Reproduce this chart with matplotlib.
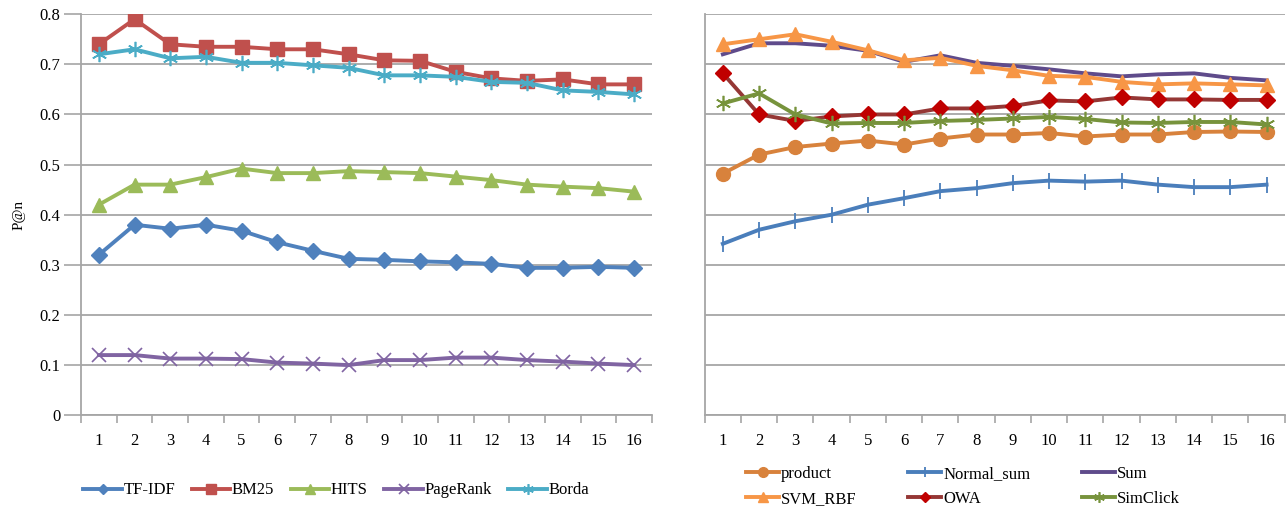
import numpy as np
import matplotlib
matplotlib.use('Agg')
import matplotlib.pyplot as plt
from matplotlib.ticker import FixedLocator

plt.rcParams['font.family'] = ['Liberation Serif', 'DejaVu Serif']

# x categories (n)
n_vals = list(range(1, 17))

# left panel series
tfidf = [0.32, 0.38, 0.372, 0.38, 0.368, 0.345, 0.328, 0.312, 0.31, 0.307, 0.305, 0.302, 0.294, 0.294, 0.296, 0.294]
bm25 = [0.74, 0.79, 0.74, 0.735, 0.735, 0.73, 0.73, 0.72, 0.708, 0.707, 0.685, 0.672, 0.667, 0.67, 0.66, 0.66]
hits = [0.42, 0.46, 0.46, 0.475, 0.492, 0.483, 0.483, 0.487, 0.485, 0.483, 0.476, 0.469, 0.46, 0.456, 0.453, 0.446]
pagerank = [0.12, 0.12, 0.113, 0.113, 0.112, 0.105, 0.103, 0.1, 0.11, 0.11, 0.115, 0.115, 0.11, 0.107, 0.103, 0.1]
borda = [0.72, 0.73, 0.712, 0.715, 0.703, 0.703, 0.698, 0.693, 0.678, 0.678, 0.675, 0.665, 0.663, 0.648, 0.645, 0.64]

# right panel series
product = [0.482, 0.52, 0.535, 0.542, 0.548, 0.54, 0.552, 0.56, 0.56, 0.563, 0.556, 0.56, 0.56, 0.565, 0.566, 0.565]
normal_sum = [0.342, 0.37, 0.387, 0.4, 0.42, 0.433, 0.447, 0.453, 0.463, 0.468, 0.466, 0.468, 0.46, 0.455, 0.455, 0.46]
sum_ = [0.72, 0.742, 0.742, 0.737, 0.727, 0.705, 0.718, 0.703, 0.697, 0.69, 0.682, 0.676, 0.68, 0.682, 0.673, 0.668]
svm_rbf = [0.74, 0.75, 0.76, 0.745, 0.728, 0.708, 0.713, 0.697, 0.688, 0.677, 0.675, 0.665, 0.66, 0.662, 0.66, 0.658]
owa = [0.682, 0.6, 0.587, 0.596, 0.6, 0.6, 0.612, 0.612, 0.617, 0.628, 0.626, 0.634, 0.63, 0.63, 0.629, 0.629]
simclick = [0.622, 0.642, 0.6, 0.582, 0.583, 0.583, 0.587, 0.589, 0.592, 0.595, 0.591, 0.584, 0.583, 0.585, 0.585, 0.58]

y_ticks = [0, 0.1, 0.2, 0.3, 0.4, 0.5, 0.6, 0.7, 0.8]
grid_col = '#a6a6a6'


def style_axis(ax, show_ylabels):
  ax.set_xlim(0.5, 16.5)
  ax.set_ylim(0, 0.8)
  ax.xaxis.set_major_locator(FixedLocator(np.arange(0.5, 17, 1)))
  ax.xaxis.set_minor_locator(FixedLocator(n_vals))
  ax.set_xticklabels([])
  ax.set_xticklabels([str(n) for n in n_vals], minor=True)
  ax.tick_params(axis='x', which='major', length=6, width=1.2, color=grid_col, direction='out')
  ax.tick_params(axis='x', which='minor', length=0, pad=13, labelsize=12)
  ax.set_yticks(y_ticks)
  ax.yaxis.grid(True, color=grid_col, linewidth=1.3)
  ax.set_axisbelow(True)
  for s in ['top', 'right']:
    ax.spines[s].set_visible(False)
  for s in ['left', 'bottom']:
    ax.spines[s].set_color(grid_col)
    ax.spines[s].set_linewidth(1.3)
  if show_ylabels:
    ax.set_yticklabels(['0'] + ['%.1f' % v for v in y_ticks[1:]])
    ax.tick_params(axis='y', length=12, width=1.2, color=grid_col, labelsize=12, pad=3)
  else:
    ax.set_yticklabels([])
    ax.tick_params(axis='y', length=0)


fig = plt.figure(figsize=(12.86, 5.07), dpi=100)
ax1 = fig.add_axes([0.063, 0.181, 0.444, 0.791])
ax2 = fig.add_axes([0.548, 0.181, 0.451, 0.791])

lw = 2.8
ax1.plot(n_vals, tfidf, color='#4f81bd', lw=lw, marker='D', ms=8, label='TF-IDF')
ax1.plot(n_vals, bm25, color='#c0504d', lw=lw, marker='s', ms=10, label='BM25')
ax1.plot(n_vals, hits, color='#9bbb59', lw=lw, marker='^', ms=10, label='HITS')
ax1.plot(n_vals, pagerank, color='#8064a2', lw=lw, marker='x', ms=10, mew=1.2, label='PageRank')
ax1.plot(n_vals, borda, color='#4bacc6', lw=lw, marker=(6, 2, 0), ms=11, mew=1.2, label='Borda')
style_axis(ax1, True)
ax1.set_ylabel('P@n', fontsize=11, labelpad=10)

l_prod, = ax2.plot(n_vals, product, color='#d8823c', lw=lw, marker='o', ms=10, label='product')
l_norm, = ax2.plot(n_vals, normal_sum, color='#4a7ebb', lw=lw, marker='|', ms=11, mew=1.3, label='Normal_sum')
l_sum, = ax2.plot(n_vals, sum_, color='#5f4b8b', lw=lw, label='Sum')
l_svm, = ax2.plot(n_vals, svm_rbf, color='#f79646', lw=lw, marker='^', ms=10, label='SVM_RBF')
l_owa, = ax2.plot(n_vals, owa, color='#953735', lw=lw, marker='D', ms=8, mfc='#c00000', mec='#c00000', label='OWA')
l_sim, = ax2.plot(n_vals, simclick, color='#77933c', lw=lw, marker=(6, 2, 0), ms=11, mew=1.2, label='SimClick')
style_axis(ax2, False)

ax1.legend(loc='upper center', bbox_to_anchor=(0.447, -0.13), ncol=5, frameon=False,
           fontsize=12, handlelength=2.3, handletextpad=0.1, columnspacing=1.0, markerscale=0.7)

# row-major order for the 3 x 2 legend
order = [l_prod, l_svm, l_norm, l_owa, l_sum, l_sim]
ax2.legend(order, [h.get_label() for h in order], loc='upper center', bbox_to_anchor=(0.445, -0.09),
           ncol=3, frameon=False, fontsize=12, handlelength=2.0, handletextpad=0.1,
           columnspacing=3.1, labelspacing=0.5, markerscale=0.7)

fig.savefig('out.png', dpi=100)
